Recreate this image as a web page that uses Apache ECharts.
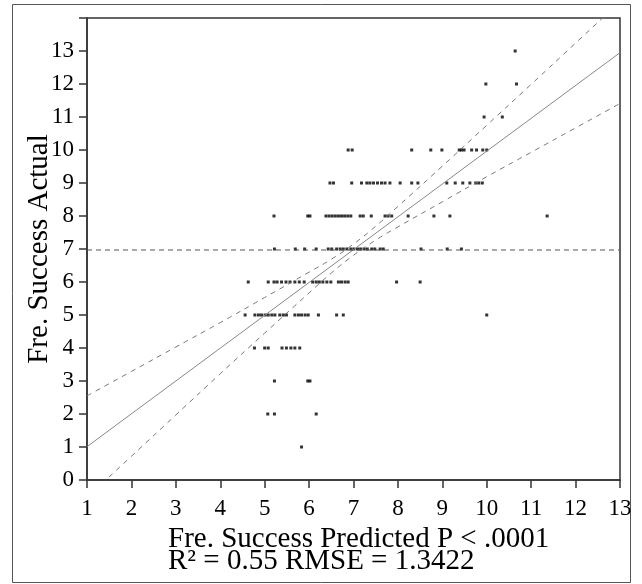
<!DOCTYPE html>
<html>
<head>
<meta charset="utf-8">
<script src="https://cdn.jsdelivr.net/npm/echarts@6/dist/echarts.min.js"></script>
<style>
  html, body { margin: 0; padding: 0; background: #fff; }
  #chart { width: 642px; height: 584px; }
</style>
</head>
<body>
<div id="chart"></div>
<script>
// actual values (rows) and the predicted values read for each row
var actualLevels = [1, 2, 3, 4, 5, 6, 7, 8, 9, 10, 11, 12, 13];
var predictedAt = [
  [5.83],
  [5.07, 5.22, 6.16],
  [5.22, 5.97, 6.02],
  [4.77, 5.00, 5.08, 5.39, 5.49, 5.59, 5.68, 5.79],
  [4.56, 4.78, 4.86, 4.93, 5.01, 5.08, 5.16, 5.23, 5.34, 5.42, 5.49, 5.68, 5.76, 5.83, 5.91, 5.98, 6.21, 6.62, 6.77, 10.0],
  [4.63, 5.08, 5.21, 5.28, 5.38, 5.48, 5.57, 5.68, 5.78, 5.89, 6.08, 6.16, 6.23, 6.31, 6.40, 6.49, 6.66, 6.73, 6.81, 6.88, 7.97, 8.50],
  [5.22, 5.69, 5.90, 6.16, 6.43, 6.51, 6.62, 6.70, 6.77, 6.85, 6.94, 7.01, 7.09, 7.16, 7.24, 7.31, 7.41, 7.48, 7.60, 7.67, 8.52, 9.11, 9.43],
  [5.21, 5.97, 6.02, 6.38, 6.45, 6.52, 6.59, 6.66, 6.73, 6.80, 6.87, 6.94, 7.15, 7.22, 7.40, 7.71, 7.78, 7.86, 8.23, 8.81, 9.17, 11.36],
  [6.47, 6.55, 6.96, 7.18, 7.30, 7.37, 7.45, 7.54, 7.63, 7.71, 7.82, 8.05, 8.31, 8.45, 9.10, 9.29, 9.46, 9.62, 9.75, 9.82, 9.90],
  [6.88, 6.97, 8.31, 8.74, 8.99, 9.38, 9.43, 9.49, 9.66, 9.77, 9.91, 10.0],
  [9.94, 10.35],
  [9.98, 10.67],
  [10.64]
];

// fit line, mean line, confidence curves
var fitX = [1, 13];
var fitY = [1.01, 12.95];
var meanY = 6.97;
var bandX = [1, 2, 3, 4, 5, 6, 6.5, 7, 7.5, 8, 9, 10, 11, 12, 13];
var upperY = [2.55, 3.29, 4.03, 4.77, 5.53, 6.30, 6.69, 7.15, 7.69, 8.29, 9.51, 10.75, 11.99, 13.24, 14.49];
var lowerY = [-0.53, 0.72, 1.97, 3.22, 4.45, 5.67, 6.27, 6.81, 7.27, 7.67, 8.43, 9.19, 9.93, 10.67, 11.41];

var xTicks = [1, 13, 1];   // min, max, step
var yTicks = [0, 14, 1];

var points = [];
actualLevels.forEach(function (a, i) {
  predictedAt[i].forEach(function (p) { points.push([p, a]); });
});
function pairs(xs, ys) {
  return xs.map(function (x, i) { return [x, ys[i]]; });
}

var font = 'Liberation Serif';
var myChart = echarts.init(document.getElementById('chart'));
var option = {
  animation: false,
  backgroundColor: '#fff',
  grid: {
    left: 87, right: 22, top: 18, bottom: 104,
    show: true, borderColor: '#333', borderWidth: 1.5
  },
  xAxis: {
    type: 'value',
    min: xTicks[0], max: xTicks[1], interval: xTicks[2],
    axisLine: { onZero: false, lineStyle: { color: '#333', width: 1.5 } },
    axisTick: { length: 8, lineStyle: { color: '#333', width: 1.5 } },
    axisLabel: { color: '#000', fontFamily: font, fontSize: 23, margin: 17 },
    splitLine: { show: false }
  },
  yAxis: {
    type: 'value',
    min: yTicks[0], max: yTicks[1], interval: yTicks[2],
    name: 'Fre. Success Actual',
    nameLocation: 'middle',
    nameGap: 33,
    nameMoveOverlap: false,
    nameTextStyle: { color: '#000', fontFamily: font, fontSize: 29 },
    axisLine: { onZero: false, lineStyle: { color: '#333', width: 1.5 } },
    axisTick: { length: 8, lineStyle: { color: '#333', width: 1.5 } },
    axisLabel: {
      color: '#000', fontFamily: font, fontSize: 23, margin: 13,
      formatter: function (v) { return v === 14 ? '' : v; }
    },
    splitLine: { show: false }
  },
  graphic: [
    {
      type: 'rect', silent: true,
      shape: { x: 12.5, y: 4.5, width: 618, height: 578 },
      style: { fill: 'none', stroke: '#555', lineWidth: 1 }
    },
    {
      type: 'text', left: 168, top: 525,
      style: { text: 'Fre. Success Predicted P < .0001', fill: '#000', font: '29px "Liberation Serif"' }
    },
    {
      type: 'text', left: 168, top: 547,
      style: { text: 'R\u00b2 = 0.55 RMSE = 1.3422', fill: '#000', font: '29px "Liberation Serif"' }
    }
  ],
  series: [
    {
      type: 'line', data: pairs(bandX, upperY), smooth: true, showSymbol: false,
      lineStyle: { color: '#777', width: 1, type: [5, 5] }
    },
    {
      type: 'line', data: pairs(bandX, lowerY), smooth: true, showSymbol: false,
      lineStyle: { color: '#777', width: 1, type: [5, 5] }
    },
    {
      type: 'line', data: pairs(fitX, fitY), showSymbol: false,
      lineStyle: { color: '#888', width: 1 }
    },
    {
      type: 'line', data: [[xTicks[0], meanY], [xTicks[1], meanY]], showSymbol: false,
      lineStyle: { color: '#555', width: 1, type: [5, 4] }
    },
    {
      type: 'scatter', data: points, symbol: 'rect', symbolSize: 3,
      itemStyle: { color: '#000' }
    }
  ]
};
myChart.setOption(option);
window.onresize = function () {
  myChart.resize();
};
</script>
</body>
</html>
